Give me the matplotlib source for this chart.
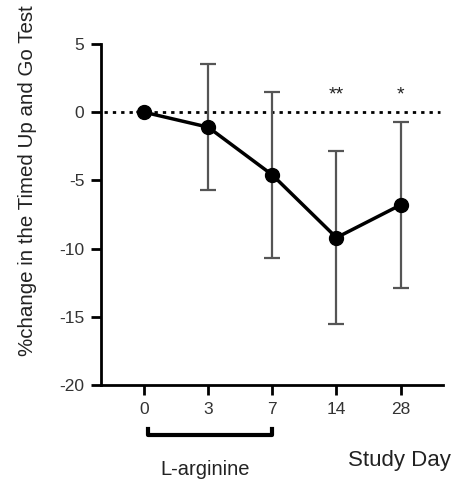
import matplotlib.pyplot as plt
import matplotlib.transforms as mtransforms

days = ['0', '3', '7', '14', '28']
mean_change = [0.0, -1.1, -4.6, -9.2, -6.8]
sd_change = [0.0, 4.6, 6.1, 6.35, 6.1]
stars = ['', '', '', '**', '*']

plt.rcParams['font.family'] = ['Liberation Sans', 'DejaVu Sans']
plt.rcParams['axes.unicode_minus'] = False

fig = plt.figure(figsize=(4.64, 4.90), dpi=100)
ax = fig.add_axes([0.2177, 0.2143, 0.737, 0.696])

x = list(range(len(days)))

ax.axhline(0, color='black', linestyle=(0, (1.2, 1.8)), linewidth=2, xmin=0.01, xmax=0.99, zorder=1)
ax.errorbar(x, mean_change, yerr=sd_change, fmt='none', ecolor='#555555', elinewidth=1.6,
            capsize=6, capthick=1.6, zorder=2)
ax.plot(x, mean_change, color='black', linewidth=2.5, marker='o', markersize=10, zorder=3)

for xi, s in zip(x, stars):
    if s:
        ax.text(xi, 1.25, s, ha='center', va='center', fontsize=14, color='#222222')

ax.set_xlim(-0.67, 4.66)
ax.set_ylim(-20, 5)
ax.set_yticks([5, 0, -5, -10, -15, -20])
ax.set_xticks(x)
ax.set_xticklabels(days)

for side in ['top', 'right']:
    ax.spines[side].set_visible(False)
for side in ['left', 'bottom']:
    ax.spines[side].set_linewidth(2)
ax.tick_params(axis='both', direction='out', length=7, width=2, labelsize=12.5,
               labelcolor='#333333', pad=5)

ax.set_ylabel('%change in the Timed Up and Go Test', fontsize=14.8, color='#222222')
ax.yaxis.set_label_coords(-0.188, 0.60)

# bracket showing the L-arginine period
trans = mtransforms.blended_transform_factory(ax.transData, ax.transAxes)
ax.plot([0.06, 0.06, 2.0, 2.0], [-0.128, -0.147, -0.147, -0.128], color='black', linewidth=3,
        transform=trans, clip_on=False, solid_joinstyle='round')
ax.text(0.95, -0.249, 'L-arginine', transform=trans, ha='center', va='center', fontsize=14.5, color='#222222')
ax.text(3.98, -0.22, 'Study Day', transform=trans, ha='center', va='center', fontsize=16, color='#222222')

fig.savefig('out.png', dpi=100)
